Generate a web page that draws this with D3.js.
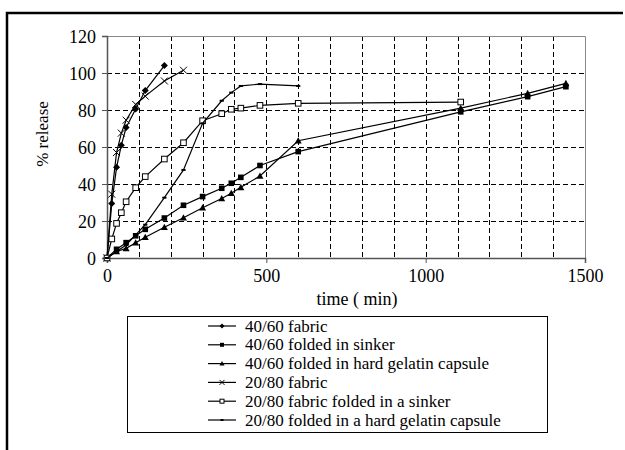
<!DOCTYPE html>
<html>
<head>
<meta charset="utf-8">
<script src="https://cdn.jsdelivr.net/npm/d3@7"></script>
<style>
	body { margin: 0; background: #fff; }
	text { font-family: "Liberation Serif", "DejaVu Serif", serif !important; fill: #000; }
</style>
</head>
<body>
<svg id="chart" width="625" height="450"></svg>
<script>
// release profiles, time in minutes
const t1 = [0, 15, 30, 45, 60, 90, 120, 180];
const fabric4060 = [0, 29.5, 49, 61, 70.5, 80.5, 90.5, 104];

const t2 = [0, 30, 60, 90, 120, 180, 240, 300, 360, 390, 420, 480, 600, 1110, 1320, 1440];
const sinker4060 = [0, 4.7, 8.3, 12, 15.5, 21.6, 28.5, 33.2, 37.7, 40.4, 43.6, 50, 57.5, 79, 87.2, 92.6];
const capsule4060 = [0, 3.5, 5.2, 8.3, 11.2, 16.6, 21.8, 27.2, 32.2, 35, 38.2, 44.3, 63.4, 81, 89, 94.4];

const t4 = [0, 15, 30, 45, 60, 90, 120, 180, 240];
const fabric2080 = [0, 34.5, 57, 67.5, 74.5, 83, 87.5, 95.7, 101.5];

const t5 = [0, 15, 30, 45, 60, 90, 120, 180, 240, 300, 360, 390, 420, 480, 600, 1110];
const sinker2080 = [0, 10.3, 18.7, 24.5, 30.4, 38, 44, 53.5, 62.3, 74.2, 78, 80.4, 81, 82.5, 83.6, 84.3];

const t6 = [0, 60, 120, 180, 240, 300, 360, 390, 420, 480, 600];
const capsule2080 = [0, 7, 18, 32.6, 47.6, 72.8, 85, 89.4, 93, 94, 93];

const seriesNames = [
	'40/60 fabric',
	'40/60 folded in sinker',
	'40/60 folded in hard gelatin capsule',
	'20/80 fabric',
	'20/80 fabric folded in a sinker',
	'20/80 folded in a hard gelatin capsule'
];
const xTicks = [0, 500, 1000, 1500];
const yTicks = [0, 20, 40, 60, 80, 100, 120];

const series = [
	{name: seriesNames[0], t: t1, v: fabric4060, mark: 'diamond'},
	{name: seriesNames[1], t: t2, v: sinker4060, mark: 'square'},
	{name: seriesNames[2], t: t2, v: capsule4060, mark: 'triangle'},
	{name: seriesNames[3], t: t4, v: fabric2080, mark: 'cross'},
	{name: seriesNames[4], t: t5, v: sinker2080, mark: 'open'},
	{name: seriesNames[5], t: t6, v: capsule2080, mark: 'dash'}
];

const svg = d3.select('#chart');

// outer frame (only top and left edges visible)
svg.append('path')
	.attr('d', 'M7,450 V13 H623')
	.attr('fill', 'none')
	.attr('stroke', '#000')
	.attr('stroke-width', 2.5);

const plotL = 107, plotR = 585, plotT = 36, plotB = 258;
const x = d3.scaleLinear().domain([0, 1500]).range([plotL, plotR]);
const y = d3.scaleLinear().domain([0, 120]).range([plotB, plotT]);

// dashed grid
const grid = svg.append('g')
	.attr('stroke', '#000')
	.attr('stroke-width', 1)
	.attr('stroke-dasharray', '5,3');
grid.selectAll('line.v')
	.data(d3.range(100, 1500, 100))
	.join('line')
	.attr('class', 'v')
	.attr('x1', d => Math.round(x(d)) + 0.5)
	.attr('x2', d => Math.round(x(d)) + 0.5)
	.attr('y1', plotT)
	.attr('y2', plotB);
grid.selectAll('line.h')
	.data(yTicks.filter(d => d > 0 && d < 120))
	.join('line')
	.attr('class', 'h')
	.attr('x1', plotL)
	.attr('x2', plotR)
	.attr('y1', d => Math.round(y(d)) + 0.5)
	.attr('y2', d => Math.round(y(d)) + 0.5);

// plot area top and right border
svg.append('path')
	.attr('d', `M${plotL},${plotT + 0.5} H${plotR + 0.5} V${plotB}`)
	.attr('fill', 'none')
	.attr('stroke', '#888')
	.attr('stroke-width', 1);

// axes
const xAxis = svg.append('g')
	.attr('transform', `translate(0,${plotB})`)
	.call(d3.axisBottom(x).tickValues(xTicks).tickFormat(d3.format('d')).tickSize(5).tickPadding(5));
const yAxis = svg.append('g')
	.attr('transform', `translate(${plotL},0)`)
	.call(d3.axisLeft(y).tickValues(yTicks).tickSize(5).tickPadding(6));
[xAxis, yAxis].forEach(a => {
	a.attr('font-size', 18);
	a.select('.domain').attr('stroke', '#555').attr('stroke-width', 1.5);
	a.selectAll('.tick line').attr('stroke', '#555');
	a.selectAll('text').attr('fill', '#000');
});
xAxis.selectAll('text').attr('dy', '0.8em');
yAxis.selectAll('text').attr('dy', '0.35em');

svg.append('text')
	.attr('x', 357)
	.attr('y', 305)
	.attr('text-anchor', 'middle')
	.attr('font-size', 18)
	.text('time ( min)');

svg.append('text')
	.attr('transform', 'translate(48,134) rotate(-90)')
	.attr('text-anchor', 'middle')
	.attr('font-size', 17)
	.text('% release');

// markers
function drawMark(g, kind, s) {
	if (kind === 'diamond') {
		g.append('path').attr('d', `M0,${-s} L${s},0 L0,${s} L${-s},0Z`).attr('fill', '#000');
	} else if (kind === 'square') {
		g.append('rect').attr('x', -s * 0.8).attr('y', -s * 0.8)
			.attr('width', s * 1.6).attr('height', s * 1.6).attr('fill', '#000');
	} else if (kind === 'triangle') {
		g.append('path').attr('d', `M0,${-s} L${s},${s * 0.8} L${-s},${s * 0.8}Z`).attr('fill', '#000');
	} else if (kind === 'cross') {
		g.append('path').attr('d', `M${-s},${-s} L${s},${s} M${-s},${s} L${s},${-s}`)
			.attr('stroke', '#000').attr('stroke-width', 1);
	} else if (kind === 'open') {
		g.append('rect').attr('x', -s * 0.8).attr('y', -s * 0.8)
			.attr('width', s * 1.6).attr('height', s * 1.6)
			.attr('fill', '#fff').attr('stroke', '#000').attr('stroke-width', 1);
	} else if (kind === 'dash') {
		g.append('path').attr('d', `M${-s * 0.6},0 H${s * 0.6}`)
			.attr('stroke', '#000').attr('stroke-width', 2);
	}
}

const line = d3.line().x(d => x(d[0])).y(d => y(d[1]));

series.forEach(s => {
	const pts = s.t.map((t, i) => [t, s.v[i]]);
	svg.append('path')
		.datum(pts)
		.attr('d', line)
		.attr('fill', 'none')
		.attr('stroke', '#000')
		.attr('stroke-width', 1.2);
	pts.forEach(p => {
		const g = svg.append('g').attr('transform', `translate(${x(p[0])},${y(p[1])})`);
		drawMark(g, s.mark, 3.5);
	});
});

// legend
const legend = svg.append('g');
legend.append('rect')
	.attr('x', 127.5).attr('y', 316.5)
	.attr('width', 420).attr('height', 116)
	.attr('fill', '#fff').attr('stroke', '#000').attr('stroke-width', 1);
series.forEach((s, i) => {
	const cy = 326 + i * 18.8;
	const row = legend.append('g');
	row.append('line')
		.attr('x1', 208).attr('x2', 236)
		.attr('y1', cy).attr('y2', cy)
		.attr('stroke', '#000').attr('stroke-width', 1.2);
	drawMark(row.append('g').attr('transform', `translate(222,${cy})`), s.mark, 2.5);
	row.append('text')
		.attr('x', 245)
		.attr('y', cy + 5.5)
		.attr('font-size', 17)
		.text(s.name);
});
</script>
</body>
</html>
